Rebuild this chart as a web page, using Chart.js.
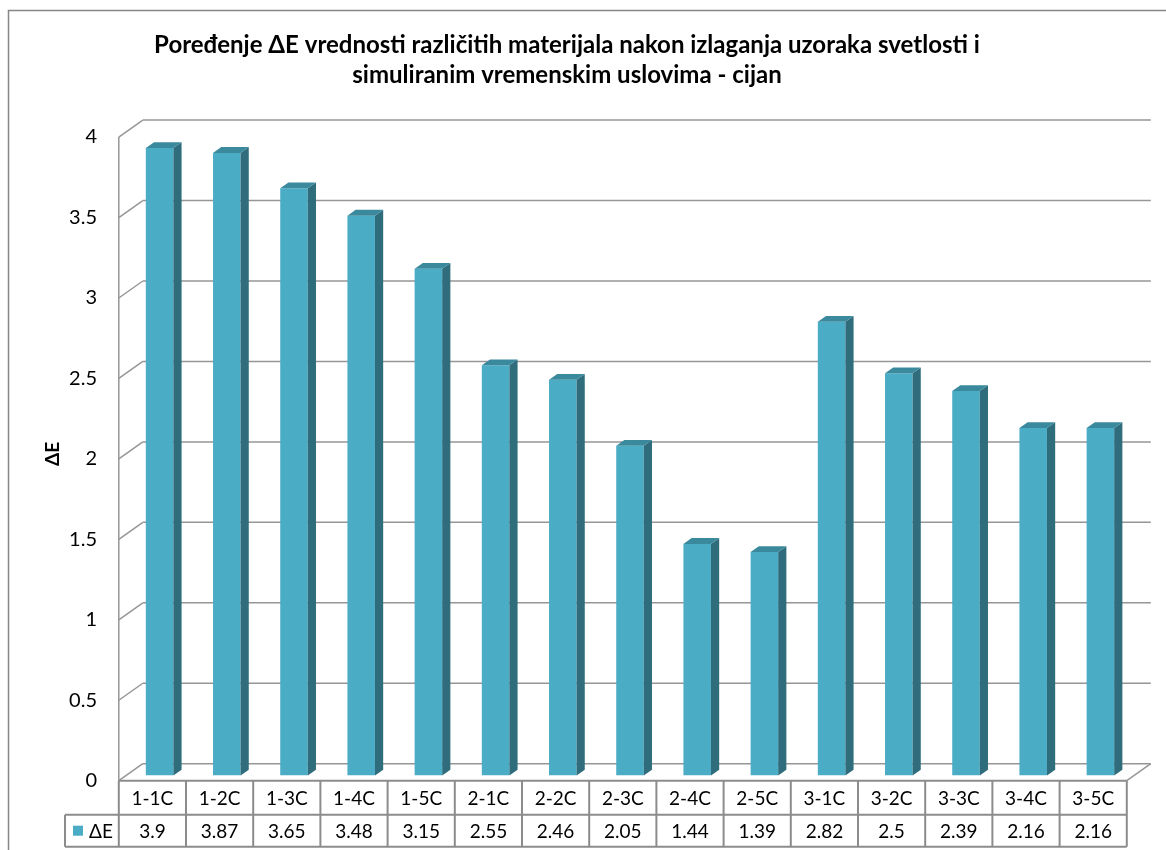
<!DOCTYPE html>
<html>
<head>
<meta charset="utf-8">
<title>ΔE - cijan</title>
<script src="https://cdn.jsdelivr.net/npm/chart.js@4.4.1/dist/chart.umd.min.js"></script>
<style>
  html, body { margin: 0; padding: 0; background: #fff; }
  #deltaChart { display: block; }
</style>
</head>
<body>
<canvas id="deltaChart" width="1166" height="850"></canvas>
<script>
const samples = ['1-1C', '1-2C', '1-3C', '1-4C', '1-5C', '2-1C', '2-2C', '2-3C', '2-4C', '2-5C', '3-1C', '3-2C', '3-3C', '3-4C', '3-5C'];
const deltaE = [3.9, 3.87, 3.65, 3.48, 3.15, 2.55, 2.46, 2.05, 1.44, 1.39, 2.82, 2.5, 2.39, 2.16, 2.16];
const seriesName = 'ΔE';
const yTicks = [0, 0.5, 1, 1.5, 2, 2.5, 3, 3.5, 4];

const FONT = 'Lato, "Liberation Sans", sans-serif';
const gridColor = '#969696';
const barFront = '#4bacc6';
const barSide = '#2f6d7d';
const barTop = '#3a899d';

// offsets of the front / back planes relative to the plane of the bars
const front = { dx: -7.2, dy: 5.1 };
const back = { dx: 16.8, dy: -11.9 };
const barDepth = { dx: 8.2, dy: -5.8 };

function line(ctx, x1, y1, x2, y2) {
    ctx.beginPath();
    ctx.moveTo(x1, y1);
    ctx.lineTo(x2, y2);
    ctx.stroke();
}

const excel3d = {
    id: 'excel3d',
    beforeDraw(chart) {
        const ctx = chart.ctx;
        ctx.save();
        ctx.strokeStyle = '#868686';
        ctx.lineWidth = 1.5;
        ctx.strokeRect(8.5, 10.5, 2000, 2000);
        ctx.restore();
    },
    beforeDatasetsDraw(chart) {
        const ctx = chart.ctx;
        const { left, right } = chart.chartArea;
        const y = chart.scales.y;
        ctx.save();
        ctx.strokeStyle = gridColor;
        ctx.lineWidth = 1.5;
        yTicks.forEach(v => {
            const py = y.getPixelForValue(v);
            line(ctx, left + back.dx, py + back.dy, right + back.dx, py + back.dy);
            line(ctx, left + front.dx, py + front.dy, left + back.dx, py + back.dy);
        });
        const yTop = y.getPixelForValue(yTicks[yTicks.length - 1]);
        const y0 = y.getPixelForValue(0);
        line(ctx, left + front.dx, yTop + front.dy, left + front.dx, y0 + front.dy);
        line(ctx, right + front.dx, y0 + front.dy, right + back.dx, y0 + back.dy);
        ctx.restore();
    },
    afterDatasetsDraw(chart) {
        const ctx = chart.ctx;
        const meta = chart.getDatasetMeta(0);
        ctx.save();
        meta.data.forEach(bar => {
            const p = bar.getProps(['x', 'y', 'base', 'width'], true);
            const l = p.x - p.width / 2;
            const r = p.x + p.width / 2;
            ctx.fillStyle = barSide;
            ctx.beginPath();
            ctx.moveTo(r, p.y);
            ctx.lineTo(r + barDepth.dx, p.y + barDepth.dy);
            ctx.lineTo(r + barDepth.dx, p.base + barDepth.dy);
            ctx.lineTo(r, p.base);
            ctx.closePath();
            ctx.fill();
            ctx.fillStyle = barTop;
            ctx.beginPath();
            ctx.moveTo(l, p.y);
            ctx.lineTo(l + barDepth.dx, p.y + barDepth.dy);
            ctx.lineTo(r + barDepth.dx, p.y + barDepth.dy);
            ctx.lineTo(r, p.y);
            ctx.closePath();
            ctx.fill();
        });
        ctx.restore();
    },
    afterDraw(chart) {
        // data table under the plot
        const ctx = chart.ctx;
        const { left, right } = chart.chartArea;
        const x = chart.scales.x;
        const y0 = chart.scales.y.getPixelForValue(0) + front.dy;
        const colW = (right - left) / samples.length;
        const tLeft = left + front.dx;
        const tRight = right + front.dx;
        const row1 = y0 + 34;
        const row2 = row1 + 32;
        const legendLeft = 65;
        ctx.save();
        ctx.strokeStyle = '#8c8c8c';
        ctx.lineWidth = 2;
        line(ctx, tLeft, y0, tRight, y0);
        line(ctx, legendLeft, row1, tRight, row1);
        line(ctx, legendLeft, row2, tRight, row2);
        line(ctx, legendLeft, row1, legendLeft, row2);
        for (let i = 0; i <= samples.length; i++) {
            const cx = tLeft + i * colW;
            line(ctx, cx, y0, cx, row2);
        }
        ctx.fillStyle = '#000';
        ctx.font = '19px ' + FONT;
        ctx.textAlign = 'center';
        ctx.textBaseline = 'middle';
        samples.forEach((s, i) => {
            const cx = x.getPixelForValue(i) + front.dx;
            ctx.fillText(s, cx, (y0 + row1) / 2 + 1);
            ctx.fillText(String(deltaE[i]), cx, (row1 + row2) / 2 + 1);
        });
        ctx.fillStyle = barFront;
        ctx.fillRect(73, (row1 + row2) / 2 - 5, 10, 10);
        ctx.fillStyle = '#000';
        ctx.textAlign = 'left';
        ctx.fillText(seriesName, 89, (row1 + row2) / 2 + 1);
        ctx.restore();
    }
};

const ctx = document.getElementById('deltaChart').getContext('2d');
const deltaChart = new Chart(ctx, {
    type: 'bar',
    data: {
        labels: samples,
        datasets: [{
            label: seriesName,
            data: deltaE,
            backgroundColor: barFront,
            borderWidth: 0,
            categoryPercentage: 1,
            barPercentage: 0.41
        }]
    },
    options: {
        responsive: false,
        animation: false,
        devicePixelRatio: 1,
        layout: { padding: { left: 0, right: 32, top: 0, bottom: 74.4 } },
        plugins: {
            legend: { display: false },
            tooltip: { enabled: false },
            title: {
                display: true,
                text: ['Poređenje ΔE vrednosti različitih materijala nakon izlaganja uzoraka svetlosti i',
                       'simuliranim vremenskim uslovima - cijan'],
                color: '#000',
                font: { family: FONT, size: 24, weight: 'bold', lineHeight: 1.25 },
                padding: { top: 30, bottom: 42 }
            }
        },
        scales: {
            x: { display: false },
            y: {
                min: 0,
                max: 4,
                afterFit(scale) { scale.width = 126; },
                ticks: {
                    stepSize: 0.5,
                    color: '#000',
                    padding: 29,
                    labelOffset: 5,
                    font: { family: FONT, size: 20 },
                    callback: v => String(v)
                },
                grid: { display: false, drawTicks: false },
                border: { display: false },
                title: {
                    display: true,
                    text: 'ΔE',
                    color: '#000',
                    font: { family: FONT, size: 19, weight: 'bold', lineHeight: 1.2 },
                    padding: { top: 41.6, bottom: 0 }
                }
            }
        }
    },
    plugins: [excel3d]
});
</script>
</body>
</html>
